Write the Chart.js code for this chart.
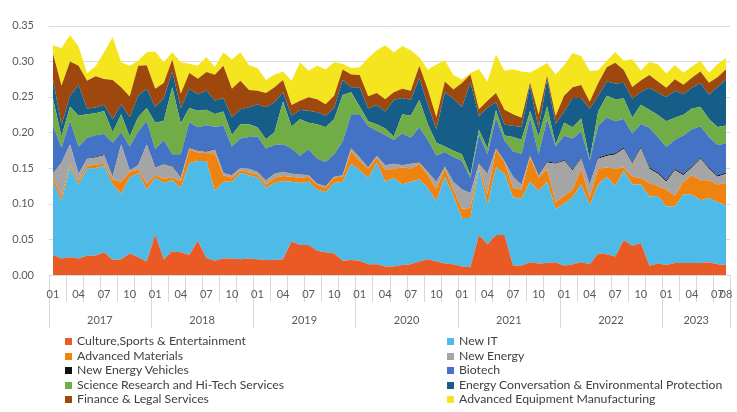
<!DOCTYPE html>
<html>
<head>
<meta charset="utf-8">
<title>Industry share, 2017-2023</title>
<script src="https://cdn.jsdelivr.net/npm/chart.js@4.4.1/dist/chart.umd.min.js"></script>
<style>
    html, body { margin: 0; padding: 0; background: #ffffff; }
    #wrap { position: relative; width: 737px; height: 412px; overflow: hidden; }
    #legend {
        position: absolute; left: 65px; top: 334px;
        display: grid; grid-template-columns: 382px 290px;
        font: 12.25px Lato, "Open Sans", sans-serif; line-height: 14.6px; color: #404040;
    }
    #legend .item { white-space: nowrap; }
    #legend .sw { display: inline-block; width: 7px; height: 7px; margin-right: 5px; vertical-align: 0px; }
</style>
</head>
<body>
<div id="wrap">
    <canvas id="chart" width="737" height="412"></canvas>
    <div id="legend"></div>
</div>
<script>
// months on the axis: 2017-01 .. 2023-08
const years = ["2017", "2018", "2019", "2020", "2021", "2022", "2023"];
const monthNames = ["01", "02", "03", "04", "05", "06", "07", "08", "09", "10", "11", "12"];
const shownMonths = ["01", "04", "07", "10"];
const lastMonth = "08";

const seriesNames = [
    "Culture,Sports & Entertainment",
    "New IT",
    "Advanced Materials",
    "New Energy",
    "New Energy Vehicles",
    "Biotech",
    "Science Research and Hi-Tech Services",
    "Energy Conversation & Environmental Protection",
    "Finance & Legal Services",
    "Advanced Equipment Manufacturing",
];
const seriesColors = ["#E95A24", "#4EBAE8", "#EE8310", "#A5A5A5", "#111111", "#4472C4", "#70AD47", "#165E88", "#9E480E", "#F5E51E"];

const culture = [
    0.028, 0.023, 0.025, 0.023, 0.027, 0.027, 0.032, 0.021, 0.022, 0.030,
    0.025, 0.019, 0.057, 0.022, 0.033, 0.032, 0.028, 0.048, 0.024, 0.020,
    0.023, 0.023, 0.022, 0.023, 0.022, 0.021, 0.021, 0.022, 0.047, 0.042,
    0.042, 0.034, 0.032, 0.030, 0.020, 0.021, 0.020, 0.015, 0.015, 0.012,
    0.012, 0.014, 0.015, 0.019, 0.022, 0.019, 0.016, 0.015, 0.012, 0.011,
    0.056, 0.043, 0.056, 0.056, 0.013, 0.013, 0.018, 0.016, 0.017, 0.018,
    0.013, 0.015, 0.018, 0.015, 0.030, 0.029, 0.026, 0.049, 0.041, 0.045,
    0.013, 0.016, 0.014, 0.017, 0.017, 0.017, 0.017, 0.018, 0.015, 0.014,
];
const newIT = [
    0.103, 0.081, 0.126, 0.104, 0.122, 0.123, 0.121, 0.106, 0.092, 0.107,
    0.118, 0.101, 0.079, 0.107, 0.100, 0.090, 0.129, 0.112, 0.136, 0.098,
    0.108, 0.108, 0.121, 0.117, 0.115, 0.101, 0.108, 0.110, 0.084, 0.087,
    0.089, 0.086, 0.084, 0.099, 0.111, 0.135, 0.127, 0.121, 0.143, 0.119,
    0.124, 0.113, 0.116, 0.115, 0.100, 0.085, 0.122, 0.096, 0.068, 0.069,
    0.094, 0.055, 0.095, 0.086, 0.096, 0.094, 0.113, 0.102, 0.114, 0.075,
    0.087, 0.094, 0.109, 0.083, 0.097, 0.109, 0.099, 0.097, 0.086, 0.082,
    0.097, 0.095, 0.082, 0.079, 0.096, 0.096, 0.088, 0.090, 0.087, 0.084,
];
const advMaterials = [
    0.006, 0.007, 0.003, 0.005, 0.004, 0.005, 0.003, 0.007, 0.017, 0.008,
    0.005, 0.008, 0.004, 0.006, 0.004, 0.010, 0.019, 0.012, 0.011, 0.053,
    0.009, 0.006, 0.004, 0.004, 0.004, 0.005, 0.007, 0.007, 0.007, 0.007,
    0.007, 0.007, 0.006, 0.008, 0.007, 0.018, 0.013, 0.013, 0.007, 0.016,
    0.013, 0.024, 0.018, 0.022, 0.018, 0.017, 0.011, 0.009, 0.013, 0.014,
    0.004, 0.015, 0.025, 0.016, 0.013, 0.013, 0.034, 0.018, 0.018, 0.009,
    0.011, 0.011, 0.022, 0.011, 0.022, 0.013, 0.024, 0.005, 0.011, 0.009,
    0.019, 0.014, 0.024, 0.015, 0.018, 0.027, 0.028, 0.025, 0.025, 0.031,
];
const newEnergy = [
    0.005, 0.047, 0.029, 0.010, 0.010, 0.010, 0.012, 0.004, 0.052, 0.002,
    0.006, 0.055, 0.011, 0.020, 0.015, 0.005, 0.002, 0.002, 0.002, 0.005,
    0.003, 0.003, 0.003, 0.005, 0.004, 0.006, 0.006, 0.006, 0.004, 0.005,
    0.002, 0.001, 0.003, 0.001, 0.002, 0.004, 0.005, 0.002, 0.002, 0.007,
    0.007, 0.003, 0.007, 0.002, 0.005, 0.010, 0.003, 0.011, 0.027, 0.021,
    0.002, 0.029, 0.001, 0.002, 0.016, 0.007, 0.002, 0.004, 0.009, 0.054,
    0.049, 0.027, 0.014, 0.018, 0.014, 0.016, 0.020, 0.026, 0.018, 0.042,
    0.020, 0.017, 0.011, 0.036, 0.009, 0.011, 0.030, 0.016, 0.011, 0.013,
];
const newEnergyVehicles = [
    0.0005, 0.0005, 0.0005, 0.0005, 0.0005, 0.001, 0.001, 0.0005, 0.0005, 0.0005,
    0.0005, 0.0005, 0.0005, 0.0005, 0.0005, 0.0005, 0.0005, 0.0005, 0.001, 0.001,
    0.0005, 0.0005, 0.0005, 0.0005, 0.0005, 0.0005, 0.0005, 0.0005, 0.0005, 0.0005,
    0.0005, 0.0005, 0.0005, 0.0005, 0.0005, 0.0005, 0.0005, 0.0007, 0.0005, 0.0005,
    0.0005, 0.0005, 0.0005, 0.0005, 0.0005, 0.0005, 0.0005, 0.0005, 0.0005, 0.0005,
    0.0007, 0.0007, 0.0005, 0.0008, 0.0006, 0.0007, 0.0011, 0.0014, 0.0015, 0.0012,
    0.0015, 0.0015, 0.0015, 0.0012, 0.0015, 0.0016, 0.0018, 0.0018, 0.0017, 0.0019,
    0.0018, 0.0017, 0.0018, 0.0017, 0.0019, 0.0017, 0.0016, 0.0018, 0.0016, 0.0017,
];
const biotech = [
    0.067, 0.020, 0.033, 0.038, 0.029, 0.030, 0.029, 0.047, 0.017, 0.033,
    0.047, 0.033, 0.025, 0.034, 0.017, 0.032, 0.036, 0.033, 0.036, 0.031,
    0.066, 0.040, 0.041, 0.044, 0.049, 0.044, 0.040, 0.038, 0.035, 0.026,
    0.036, 0.035, 0.033, 0.031, 0.047, 0.047, 0.060, 0.057, 0.035, 0.042,
    0.033, 0.044, 0.036, 0.049, 0.044, 0.036, 0.020, 0.034, 0.040, 0.021,
    0.040, 0.027, 0.043, 0.028, 0.035, 0.042, 0.053, 0.028, 0.059, 0.023,
    0.034, 0.043, 0.037, 0.032, 0.045, 0.052, 0.045, 0.040, 0.041, 0.032,
    0.056, 0.050, 0.047, 0.041, 0.054, 0.052, 0.044, 0.043, 0.043, 0.041,
];
const scienceServices = [
    0.038, 0.016, 0.020, 0.043, 0.033, 0.031, 0.032, 0.015, 0.025, 0.014,
    0.020, 0.018, 0.037, 0.027, 0.094, 0.043, 0.020, 0.023, 0.022, 0.018,
    0.020, 0.016, 0.020, 0.018, 0.013, 0.013, 0.018, 0.060, 0.031, 0.051,
    0.037, 0.048, 0.049, 0.049, 0.065, 0.031, 0.011, 0.007, 0.009, 0.009,
    0.005, 0.027, 0.031, 0.038, 0.022, 0.018, 0.008, 0.009, 0.009, 0.004,
    0.007, 0.008, 0.011, 0.007, 0.020, 0.020, 0.009, 0.025, 0.018, 0.003,
    0.018, 0.016, 0.018, 0.002, 0.020, 0.031, 0.031, 0.029, 0.022, 0.027,
    0.025, 0.031, 0.036, 0.031, 0.029, 0.029, 0.027, 0.025, 0.025, 0.025,
];
const energyConservation = [
    0.027, 0.016, 0.015, 0.043, 0.008, 0.008, 0.009, 0.018, 0.014, 0.027,
    0.030, 0.027, 0.022, 0.032, 0.022, 0.022, 0.027, 0.023, 0.027, 0.019,
    0.019, 0.025, 0.021, 0.024, 0.032, 0.045, 0.042, 0.013, 0.015, 0.013,
    0.017, 0.017, 0.016, 0.016, 0.021, 0.007, 0.027, 0.018, 0.027, 0.024,
    0.051, 0.023, 0.022, 0.031, 0.027, 0.019, 0.076, 0.073, 0.066, 0.130,
    0.019, 0.057, 0.011, 0.015, 0.016, 0.018, 0.036, 0.011, 0.038, 0.029,
    0.016, 0.041, 0.029, 0.071, 0.022, 0.020, 0.022, 0.022, 0.027, 0.018,
    0.031, 0.031, 0.034, 0.038, 0.029, 0.029, 0.034, 0.034, 0.056, 0.065,
];
const financeLegal = [
    0.036, 0.055, 0.048, 0.027, 0.039, 0.044, 0.036, 0.055, 0.024, 0.029,
    0.042, 0.033, 0.026, 0.021, 0.017, 0.020, 0.022, 0.022, 0.026, 0.036,
    0.045, 0.040, 0.040, 0.024, 0.019, 0.020, 0.021, 0.017, 0.015, 0.013,
    0.019, 0.018, 0.016, 0.017, 0.015, 0.018, 0.017, 0.017, 0.017, 0.017,
    0.011, 0.013, 0.013, 0.017, 0.022, 0.017, 0.015, 0.013, 0.034, 0.011,
    0.010, 0.010, 0.013, 0.021, 0.016, 0.013, 0.004, 0.020, 0.005, 0.011,
    0.022, 0.015, 0.018, 0.010, 0.018, 0.020, 0.029, 0.018, 0.016, 0.016,
    0.018, 0.016, 0.013, 0.016, 0.013, 0.014, 0.016, 0.017, 0.014, 0.014,
];
const advEquipment = [
    0.012, 0.053, 0.037, 0.027, 0.011, 0.014, 0.038, 0.060, 0.035, 0.043,
    0.007, 0.018, 0.052, 0.029, 0.010, 0.044, 0.013, 0.018, 0.021, 0.011,
    0.019, 0.041, 0.040, 0.035, 0.032, 0.018, 0.018, 0.012, 0.034, 0.054,
    0.037, 0.047, 0.049, 0.047, 0.008, 0.009, 0.011, 0.054, 0.060, 0.076,
    0.056, 0.060, 0.057, 0.012, 0.028, 0.074, 0.030, 0.020, 0.005, 0.002,
    0.056, 0.027, 0.054, 0.055, 0.063, 0.065, 0.014, 0.065, 0.018, 0.058,
    0.043, 0.048, 0.041, 0.043, 0.018, 0.009, 0.015, 0.013, 0.039, 0.014,
    0.018, 0.024, 0.020, 0.020, 0.017, 0.016, 0.015, 0.014, 0.018, 0.016,
];

const seriesData = [culture, newIT, advMaterials, newEnergy, newEnergyVehicles, biotech, scienceServices, energyConservation, financeLegal, advEquipment];

// category list "2017-01" ... "2023-08"
const categories = [];
years.forEach((year) => {
    monthNames.forEach((month) => {
        if (year === years[years.length - 1] && month > lastMonth) return;
        categories.push(`${year}-${month}`);
    });
});

const TEXT_COLOR = "#595959";
const LINE_COLOR = "#d9d9d9";
const FONT = "11px Lato, 'Open Sans', sans-serif";

// Excel-like axis: gridlines from tick boundary to tick boundary, month ticks, year groups
const axisDecor = {
    id: "axisDecor",
    beforeDatasetsDraw(chart) {
        const { ctx, scales: { x, y } } = chart;
        const step = x.getPixelForValue(1) - x.getPixelForValue(0);
        const left = x.getPixelForValue(0) - step / 2;
        const right = x.getPixelForValue(categories.length - 1) + step / 2;
        ctx.save();
        ctx.strokeStyle = LINE_COLOR;
        ctx.lineWidth = 1;
        y.ticks.forEach((tick) => {
            const py = Math.round(y.getPixelForValue(tick.value)) + 0.5;
            ctx.beginPath();
            ctx.moveTo(left, py);
            ctx.lineTo(right, py);
            ctx.stroke();
        });
        ctx.restore();
    },
    afterDraw(chart) {
        const { ctx, scales: { x } } = chart;
        const bottom = chart.chartArea.bottom;
        const step = x.getPixelForValue(1) - x.getPixelForValue(0);
        const boundary = (i) => x.getPixelForValue(i) - step / 2;

        ctx.save();
        ctx.strokeStyle = LINE_COLOR;
        ctx.lineWidth = 1;
        for (let i = 0; i <= categories.length; i += 2) {
            const px = Math.round(boundary(i)) + 0.5;
            const isYear = i % 12 === 0 || i === categories.length;
            ctx.beginPath();
            ctx.moveTo(px, bottom);
            ctx.lineTo(px, bottom + (isYear ? 53 : 27));
            ctx.stroke();
        }

        ctx.fillStyle = TEXT_COLOR;
        ctx.font = FONT;
        ctx.textAlign = "center";
        ctx.textBaseline = "middle";
        categories.forEach((label, i) => {
            const month = label.slice(5);
            if (shownMonths.includes(month) || i === categories.length - 1) {
                ctx.fillText(month, x.getPixelForValue(i), bottom + 19.5);
            }
        });

        years.forEach((year) => {
            const first = categories.findIndex((c) => c.startsWith(year));
            const last = categories.length - 1 - [...categories].reverse().findIndex((c) => c.startsWith(year));
            const mid = (boundary(first) + boundary(last + 1)) / 2;
            ctx.fillText(year, mid, bottom + 45.5);
        });
        ctx.restore();
    },
};

const ctx = document.getElementById("chart").getContext("2d");
new Chart(ctx, {
    type: "line",
    data: {
        labels: categories,
        datasets: seriesData.map((data, k) => ({
            label: seriesNames[k],
            data,
            backgroundColor: seriesColors[k],
            borderColor: "transparent",
            borderWidth: 0,
            fill: k === 0 ? "origin" : "-1",
            pointRadius: 0,
            pointHoverRadius: 0,
            tension: 0,
        })),
    },
    options: {
        responsive: false,
        animation: false,
        devicePixelRatio: 1,
        layout: { padding: { top: 13, right: 11, bottom: 0, left: 0 } },
        plugins: {
            legend: { display: false },
            tooltip: { enabled: false },
        },
        scales: {
            x: {
                ticks: { display: false },
                grid: { display: false, drawTicks: false },
                border: { display: false },
                afterFit: (scale) => { scale.height = 137; },
            },
            y: {
                stacked: true,
                min: 0,
                max: 0.35,
                ticks: {
                    stepSize: 0.05,
                    padding: 19,
                    color: TEXT_COLOR,
                    font: { family: "Lato, 'Open Sans', sans-serif", size: 11 },
                    callback: (value) => value.toFixed(2),
                },
                grid: { display: false, drawTicks: false },
                border: { display: false },
                afterFit: (scale) => { scale.width = 53; },
            },
        },
    },
    plugins: [axisDecor],
});

// two-column legend, filled row by row like the original
const legendBox = document.getElementById("legend");
seriesNames.forEach((name, k) => {
    const item = document.createElement("div");
    item.className = "item";
    const swatch = document.createElement("span");
    swatch.className = "sw";
    swatch.style.background = seriesColors[k];
    item.appendChild(swatch);
    item.appendChild(document.createTextNode(name));
    legendBox.appendChild(item);
});
</script>
</body>
</html>
